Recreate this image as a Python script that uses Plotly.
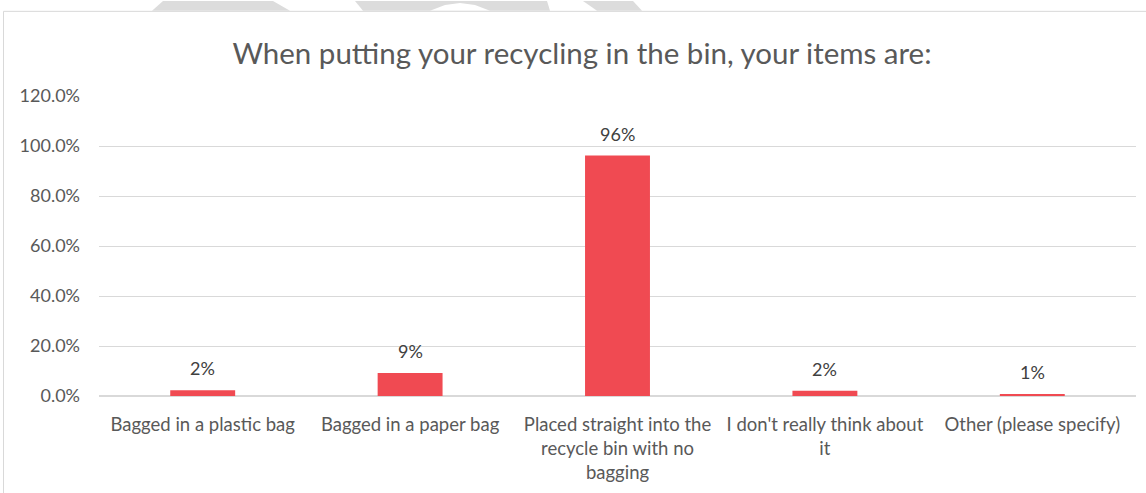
import plotly.graph_objects as go

categories = [
    "Bagged in a plastic bag",
    "Bagged in a paper bag",
    "Placed straight into the<br>recycle bin with no<br>bagging",
    "I don't really think about<br>it",
    "Other (please specify)",
]
values = [0.023, 0.092, 0.962, 0.021, 0.008]
title_text = "When putting your recycling in the bin, your items are:"

W, H = 1146, 493
ML, MR, MT, MB = 99, 10, 96, 94


def px(x):
    return (x - ML) / (W - ML - MR)


def py(y):
    return 1 - (y - MT) / (H - MT - MB)


FONT = "Lato, Carlito, Calibri, sans-serif"

fig = go.Figure(
    go.Bar(
        x=categories,
        y=values,
        marker=dict(color="#F04A52", line=dict(width=0)),
        hoverinfo="skip",
    )
)

# data labels above bars
for c, v in zip(categories, values):
    fig.add_annotation(
        x=c, y=v, xref="x", yref="y",
        text=f"{v:.0%}", showarrow=False,
        yanchor="bottom", yshift=9,
        font=dict(family=FONT, size=18, color="#404040"),
    )

shapes = []
# chart border (left and top)
shapes.append(dict(type="line", xref="paper", yref="paper",
                   x0=px(3.5), x1=px(3.5), y0=py(10.5), y1=py(H + 5),
                   line=dict(color="#D9D9D9", width=1)))
shapes.append(dict(type="line", xref="paper", yref="paper",
                   x0=px(3.5), x1=px(W + 5), y0=py(10.5), y1=py(10.5),
                   line=dict(color="#D9D9D9", width=1)))


def poly(pts, color="#DCDCDC"):
    d = "M " + " L ".join(f"{px(a)},{py(b)}" for a, b in pts) + " Z"
    return dict(type="path", xref="paper", yref="paper", path=d,
                fillcolor=color, line=dict(width=0), layer="below")


# faint background watermark visible above the chart
shapes.append(poly([(163, 0), (273, 0), (290, 10), (152, 10)]))
shapes.append(poly([(355, 0), (547, 0), (550, 10), (363, 10)]))
shapes.append(poly([(430, 10), (445, 4), (460, 2), (475, 4), (490, 10)], "#FFFFFF"))
shapes.append(poly([(583, 0), (633, 0), (642, 10), (597, 10)]))

fig.update_layout(
    width=W,
    height=H,
    margin=dict(l=ML, r=MR, t=MT, b=MB, pad=0),
    paper_bgcolor="#FFFFFF",
    plot_bgcolor="#FFFFFF",
    showlegend=False,
    bargap=0.687,
    title=dict(text=title_text, xref="container", x=582 / W, xanchor="center",
               yref="container", y=1 - 54 / H, yanchor="middle",
               font=dict(family=FONT, size=29.5, color="#595959")),
    font=dict(family=FONT, color="#595959", size=18),
    shapes=shapes,
    xaxis=dict(
        showgrid=False,
        showline=True,
        linecolor="#D9D9D9",
        linewidth=1,
        ticks="",
        tickfont=dict(family=FONT, size=18.5, color="#595959"),
        ticklabelstandoff=12,
        fixedrange=True,
    ),
    yaxis=dict(
        range=[0, 1.2],
        dtick=0.2,
        tick0=0,
        tickformat=".1%",
        showgrid=True,
        gridcolor="#D9D9D9",
        gridwidth=1,
        zeroline=True,
        zerolinecolor="#D9D9D9",
        showline=False,
        ticks="",
        ticklabelstandoff=18,
        tickfont=dict(family=FONT, size=18, color="#595959"),
        fixedrange=True,
    ),
)

fig.write_html(
    "out.html",
    config={"displayModeBar": False, "staticPlot": True},
    post_script="document.body.style.margin='0px';",
)
